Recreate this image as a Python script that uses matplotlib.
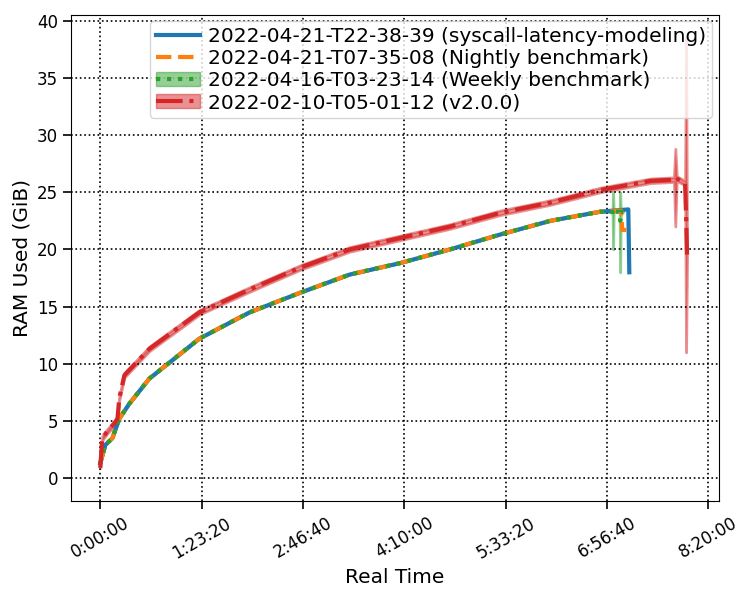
import matplotlib
matplotlib.use("Agg")
import matplotlib.pyplot as plt
import numpy as np
from matplotlib.patches import Patch
from matplotlib.lines import Line2D
from matplotlib.ticker import FuncFormatter, MultipleLocator

labels = ["2022-04-21-T22-38-39 (syscall-latency-modeling)",
          "2022-04-21-T07-35-08 (Nightly benchmark)",
          "2022-04-16-T03-23-14 (Weekly benchmark)",
          "2022-02-10-T05-01-12 (v2.0.0)"]

t_base = [0, 250, 600, 800, 940, 1430, 2420, 4890, 7370, 9840, 12300, 14780, 17250, 19720, 22200, 24670]
v_base = [1.3, 2.9, 3.5, 4.5, 5.2, 6.5, 8.7, 12.2, 14.5, 16.2, 17.8, 18.8, 20.0, 21.3, 22.5, 23.3]

t_blue = t_base + [26050, 26100]
v_blue = v_base + [23.5, 18.0]
t_orange = t_base + [25700, 25750, 25950]
v_orange = v_base + [23.4, 21.7, 21.7]
t_green = t_base + [25270, 25300, 25330, 25620, 25650, 25680, 25800]
v_green = v_base + [23.3, 23.0, 23.3, 23.3, 22.5, 23.3, 23.3]
lo_green = v_base + [23.3, 20.0, 23.3, 23.3, 18.0, 23.3, 23.3]
hi_green = v_base + [23.3, 25.0, 23.3, 23.3, 25.0, 23.3, 23.3]

t_red = [0, 100, 350, 700, 850, 940, 1190, 2420, 4890, 7370, 9840, 12300, 14780, 17250, 19720, 22200, 24670, 27150, 28300, 28370, 28440, 28850, 28900, 28950]
v_red = [0.9, 3.5, 4.1, 4.8, 5.2, 7.0, 9.0, 11.3, 14.5, 16.5, 18.4, 20.0, 21.0, 22.0, 23.2, 24.1, 25.2, 26.0, 26.1, 26.3, 26.2, 25.8, 23.0, 19.5]
lo_red = [0.9, 3.3, 3.9, 4.6, 5.0, 6.8, 8.8, 11.1, 14.3, 16.3, 18.2, 19.8, 20.8, 21.8, 23.0, 23.9, 25.0, 25.8, 25.9, 22.0, 26.0, 25.6, 11.0, 19.3]
hi_red = [1.1, 3.7, 4.3, 5.0, 5.4, 7.2, 9.2, 11.5, 14.7, 16.7, 18.6, 20.2, 21.2, 22.2, 23.4, 24.3, 25.4, 26.2, 26.3, 28.8, 26.4, 26.0, 38.5, 19.7]

fig, ax = plt.subplots(figsize=(7.5, 6), dpi=100)
c = ["#1f77b4", "#ff7f0e", "#2ca02c", "#d62728"]
ax.plot(t_blue, v_blue, color=c[0], lw=3, ls="-")
ax.plot(t_orange, v_orange, color=c[1], lw=3, ls="--")
ax.fill_between(t_green, lo_green, hi_green, color=c[2], alpha=0.5, lw=2)
ax.plot(t_green, v_green, color=c[2], lw=3, ls=":")
ax.fill_between(t_red, lo_red, hi_red, color=c[3], alpha=0.5, lw=2)
ax.plot(t_red, v_red, color=c[3], lw=3, ls="-.")

handles = [Line2D([], [], color=c[0], lw=3, ls="-"),
           Line2D([], [], color=c[1], lw=3, ls="--"),
           (Patch(facecolor=c[2], edgecolor=c[2], alpha=0.5), Line2D([], [], color=c[2], lw=3, ls=":")),
           (Patch(facecolor=c[3], edgecolor=c[3], alpha=0.5), Line2D([], [], color=c[3], lw=3, ls="-."))]
ax.legend(handles, labels, loc="upper right", fontsize=14.5, handlelength=2.2,
          borderaxespad=0.3, labelspacing=0.15, handletextpad=0.4, borderpad=0.3)

def fmt(x, pos):
    x = int(round(x))
    return f"{x // 3600}:{(x % 3600) // 60:02d}:{x % 60:02d}"
ax.xaxis.set_major_locator(MultipleLocator(5000))
ax.xaxis.set_major_formatter(FuncFormatter(fmt))
ax.yaxis.set_major_locator(MultipleLocator(5))
ax.set_xlim(-1430, 30500)
ax.set_ylim(-2, 40.5)
ax.grid(True, color="black", ls=":", lw=1.2)
ax.tick_params(labelsize=12, length=6, width=1.2)
plt.setp(ax.get_xticklabels(), rotation=30)
ax.set_xlabel("Real Time", fontsize=14.5)
ax.set_ylabel("RAM Used (GiB)", fontsize=14.5)
fig.subplots_adjust(left=0.095, right=0.958, top=0.975, bottom=0.165)
fig.savefig("out.png")
